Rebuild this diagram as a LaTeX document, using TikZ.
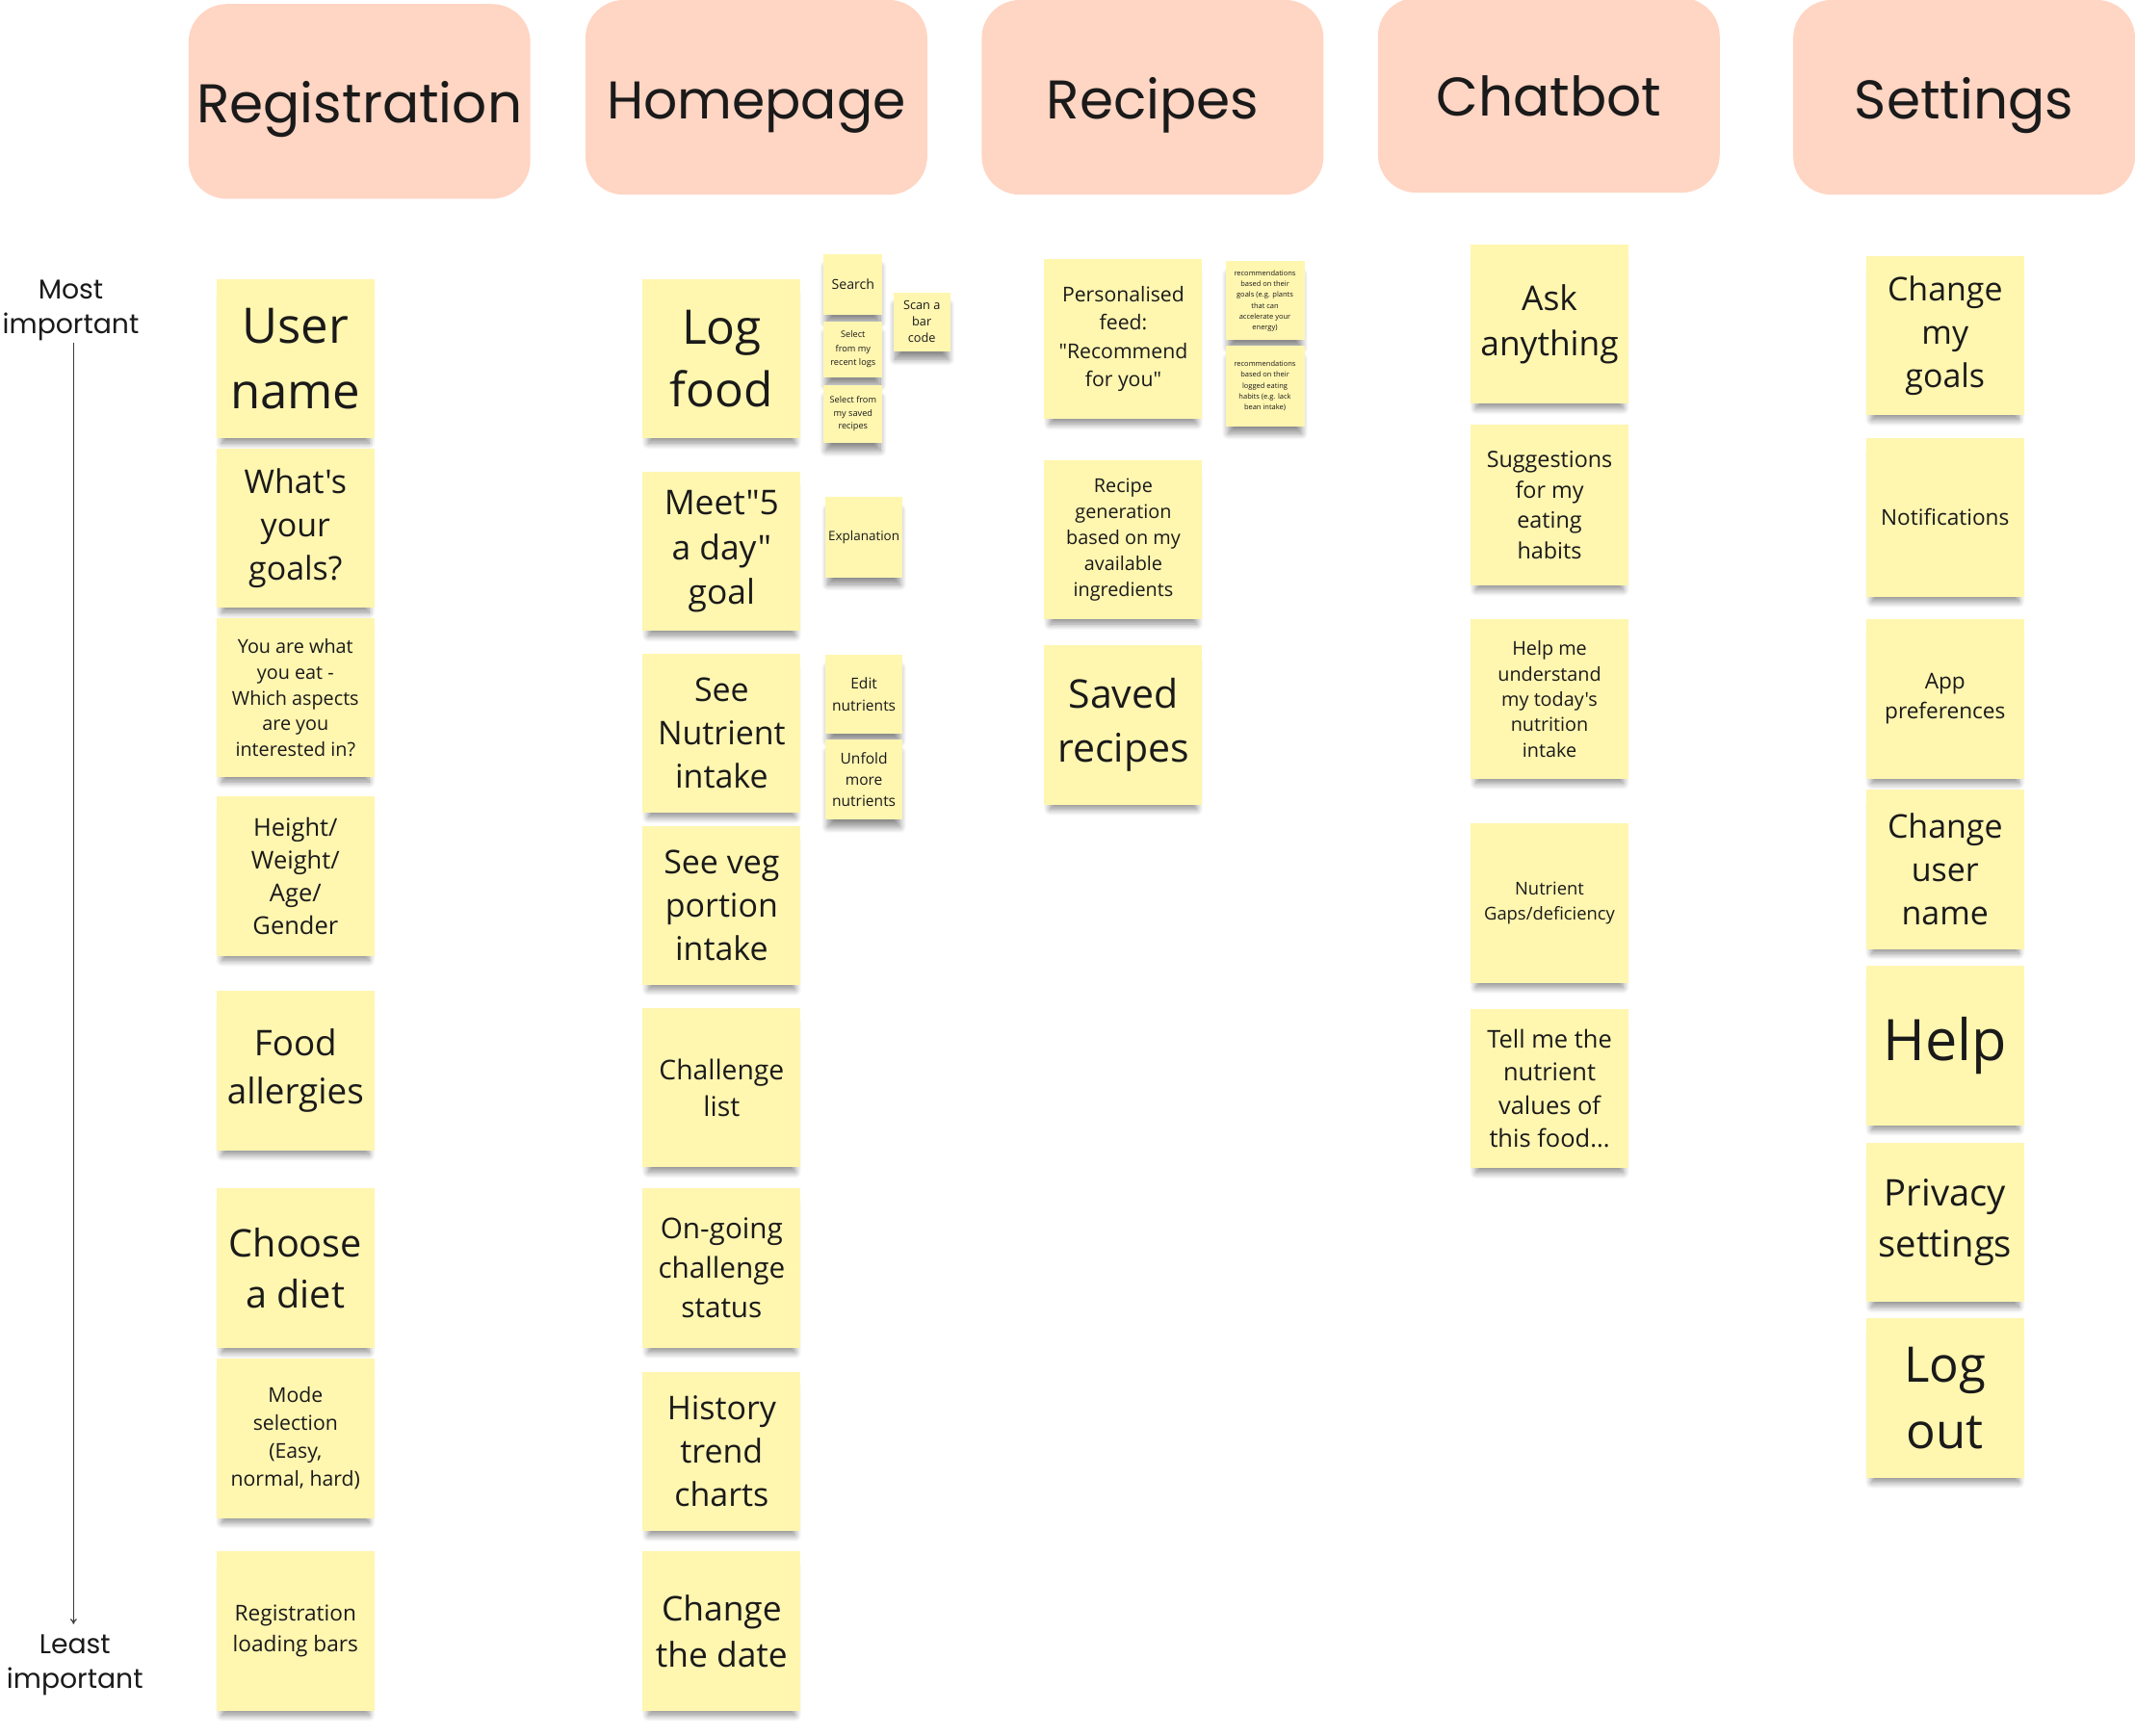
\documentclass[tikz,border=0pt]{standalone}
\usepackage{fontspec}
\setmainfont{Open Sans}[Ligatures=TeXOff]
\newfontfamily\hdrfont{Poppins}
\usetikzlibrary{shadows.blur,arrows.meta}
\definecolor{hdrfill}{HTML}{FFD5C3}
\definecolor{stkfill}{HTML}{FFF6B0}
\definecolor{ink}{HTML}{1A1A1A}
\tikzset{
  fz/.style 2 args={font=\fontsize{#1}{#2}\selectfont},
  hdr/.style={fill=hdrfill, rounded corners=28pt, minimum width=251pt, minimum height=143pt,
    inner sep=0pt, text height=35pt, text depth=4pt, text=ink, font=\hdrfont\fontsize{40}{48}\selectfont},
  stk/.style={fill=stkfill, inner sep=0pt, align=center, text=ink,
    blur shadow={shadow xshift=0pt, shadow yshift=-8pt, shadow scale=0.93,
      shadow opacity=45, shadow blur radius=5pt, shadow blur steps=10}},
  big/.style={stk, minimum width=116pt, minimum height=117pt},
  axlbl/.style={text=ink, align=center, inner sep=0pt, font=\hdrfont\fontsize{20}{26}\selectfont}
}
\begin{document}
\begin{tikzpicture}[x=1pt,y=-1pt]
\useasboundingbox (0,0) rectangle (1568,1275);
% headers
\node[hdr] (hreg) at (264,74.5) {Registration};
\node[hdr, font=\hdrfont\fontsize{39}{48}\selectfont] (hhome) at (555.5,71.5) {Homepage};
\node[hdr] (hrec) at (846.5,71.5) {Recipes};
\node[hdr] (hchat) at (1137.5,70) {Chatbot};
\node[hdr] (hset) at (1442.5,71.5) {Settings};
% axis
\node[axlbl] (most) at (52,228) {Most\\important};
\node[axlbl] (least) at (55,1223) {Least\\important};
\coordinate (atop) at (54,252);
\coordinate (abot) at (54,1193);
\draw[ink!85, line width=0.9pt, -{To[length=4pt,width=5pt]}] (atop) -- (abot);
% Registration column
\node[big, fz={36}{48}] (u1) at (217,263.5) {User\\name};
\node[big, fz={24}{32}] (u2) at (217,388) {What's\\your\\goals?};
\node[big, fz={14}{19}] (u3) at (217,512.5) {You are what\\you eat -\\Which aspects\\are you\\interested in?};
\node[big, fz={18}{24}] (u4) at (217,643.5) {Height/\\Weight/\\Age/\\Gender};
\node[big, fz={26}{35}] (u5) at (217,786.5) {Food\\allergies};
\node[big, fz={28}{37}] (u6) at (217,931.5) {Choose\\a diet};
\node[big, fz={15}{20.5}] (u7) at (217,1056.5) {Mode\\selection\\(Easy,\\normal, hard)};
\node[big, fz={16}{22}] (u8) at (217,1198) {Registration\\loading bars};
% Homepage column
\node[big, fz={35}{46}] (h1) at (530,263.5) {Log\\food};
\node[big, fz={25}{33}] (h2) at (530,405) {Meet"5\\a day"\\goal};
\node[big, fz={24}{32}] (h3) at (530,538.5) {See\\Nutrient\\intake};
\node[big, fz={24}{32}] (h4) at (530,665) {See veg\\portion\\intake};
\node[big, fz={20}{27}] (h5) at (530,799) {Challenge\\list};
\node[big, fz={21}{29}] (h6) at (530,931.5) {On-going\\challenge\\status};
\node[big, fz={24}{32}] (h7) at (530,1066) {History\\trend\\charts};
\node[big, fz={25}{34}] (h8) at (530,1198) {Change\\the date};
% Homepage side notes
\node[stk, fz={10}{12}, minimum width=43pt, minimum height=44pt] (s1) at (626.5,209) {Search};
\node[stk, fz={6.5}{10}, minimum width=43pt, minimum height=41pt] (s2) at (626.5,256.5) {Select\\from my\\recent logs};
\node[stk, fz={6.5}{9.5}, minimum width=43pt, minimum height=42pt] (s3) at (626.5,304) {Select from\\my saved\\recipes};
\node[stk, fz={9}{12}, minimum width=42pt, minimum height=43pt] (s4) at (677,236.5) {Scan a\\bar\\code};
\node[stk, fz={9.5}{12}, minimum width=57pt, minimum height=59pt] (s5) at (634.5,394.5) {Explanation};
\node[stk, fz={11}{16}, minimum width=57pt, minimum height=58pt] (s6) at (634.5,510) {Edit\\nutrients};
\node[stk, fz={11}{15.5}, minimum width=57pt, minimum height=59pt] (s7) at (634.5,572.5) {Unfold\\more\\nutrients};
% Recipes column
\node[stk, fz={15}{20.7}, minimum width=116pt, minimum height=118pt] (r1) at (825,249) {Personalised\\feed:\\"Recommend\\for you"};
\node[big, fz={14}{19}] (r2) at (825,396.5) {Recipe\\generation\\based on my\\available\\ingredients};
\node[big, fz={29}{40}] (r3) at (825,532.5) {Saved\\recipes};
\node[stk, fz={5.3}{8}, minimum width=58pt, minimum height=58pt] (rs1) at (929,221) {recommendations\\based on their\\goals (e.g. plants\\that can\\accelerate your\\energy)};
\node[stk, fz={5.3}{8}, minimum width=58pt, minimum height=59pt] (rs2) at (929,283.5) {recommendations\\based on their\\logged eating\\habits (e.g. lack\\bean intake)};
% Chatbot column
\node[big, fz={25}{33}] (c1) at (1138,238) {Ask\\anything};
\node[stk, fz={16.5}{22.3}, minimum width=116pt, minimum height=118pt] (c2) at (1138,371) {Suggestions\\for my\\eating\\habits};
\node[big, fz={14}{18.7}] (c3) at (1138,513.5) {Help me\\understand\\my today's\\nutrition\\intake};
\node[big, fz={13}{18}] (c4) at (1138,663.5) {Nutrient\\Gaps/deficiency};
\node[big, fz={18}{24.3}] (c5) at (1138,799.5) {Tell me the\\nutrient\\values of\\this food...};
% Settings column
\node[big, fz={24}{32}] (t1) at (1428.5,246.5) {Change\\my\\goals};
\node[big, fz={16}{22}] (t2) at (1428.5,380) {Notifications};
\node[big, fz={16}{22}] (t3) at (1428.5,513.5) {App\\preferences};
\node[big, fz={24}{32}] (t4) at (1428.5,638.5) {Change\\user\\name};
\node[big, fz={42}{50}] (t5) at (1428.5,768) {Help};
\node[big, fz={27}{37}] (t6) at (1428.5,898) {Privacy\\settings};
\node[big, fz={36}{49}] (t7) at (1428.5,1027) {Log\\out};
\end{tikzpicture}
\end{document}
